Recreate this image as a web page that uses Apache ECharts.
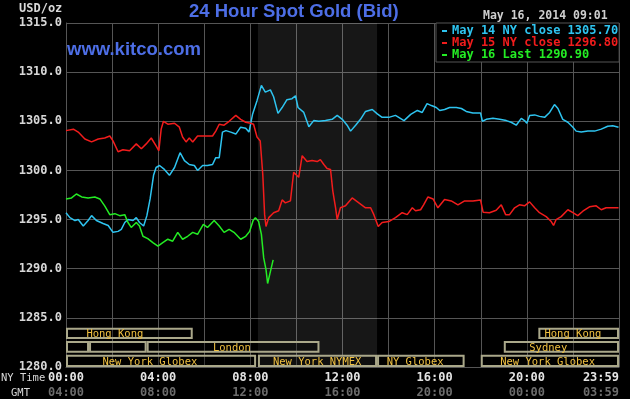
<!DOCTYPE html>
<html>
<head>
<meta charset="utf-8">
<script src="https://cdn.jsdelivr.net/npm/echarts@6/dist/echarts.min.js"></script>
<style>
  html, body { margin: 0; padding: 0; background: #000; }
  #chart { width: 630px; height: 399px; }
</style>
</head>
<body>
<div id="chart"></div>
<script>
// NY time in hours, price in USD/oz
const may14Hours = [0.00, 0.17, 0.39, 0.53, 0.75, 0.96, 1.11, 1.32, 1.61, 1.83, 2.04, 2.26, 2.40, 2.55, 2.69, 2.91, 3.05, 3.19, 3.37, 3.51,
    3.65, 3.80, 3.91, 4.06, 4.27, 4.49, 4.71, 4.95, 5.14, 5.35, 5.57, 5.71, 5.93, 6.14, 6.36, 6.50, 6.65, 6.79, 6.94, 7.15,
    7.37, 7.58, 7.80, 7.94, 8.02, 8.10, 8.29, 8.48, 8.65, 8.87, 9.01, 9.20, 9.38, 9.59, 9.81, 9.96, 10.07, 10.32, 10.54, 10.75,
    10.97, 11.26, 11.55, 11.77, 11.99, 12.20, 12.35, 12.57, 12.78, 13.00, 13.29, 13.51, 13.72, 14.01, 14.30, 14.67, 14.96, 15.25, 15.46, 15.67,
    15.86, 16.07, 16.22, 16.43, 16.65, 16.94, 17.16, 17.37, 17.66, 17.99, 18.07, 18.24, 18.53, 18.82, 19.11, 19.32, 19.54, 19.76, 19.90, 20.00,
    20.12, 20.34, 20.55, 20.77, 20.99, 21.20, 21.35, 21.56, 21.78, 22.00, 22.14, 22.36, 22.65, 22.94, 23.23, 23.51, 23.73, 23.98];
const may14Prices = [1295.7, 1295.2, 1294.9, 1295.0, 1294.35, 1294.9, 1295.4, 1294.9, 1294.6, 1294.4, 1293.7, 1293.8, 1294.0, 1294.7, 1295.0, 1294.9, 1295.2, 1294.7, 1294.35, 1295.4,
    1297.1, 1299.5, 1300.3, 1300.5, 1300.1, 1299.5, 1300.3, 1301.8, 1301.0, 1300.6, 1300.5, 1300.0, 1300.5, 1300.5, 1300.6, 1301.3, 1301.3, 1303.9, 1304.05, 1303.9,
    1303.7, 1304.4, 1304.3, 1303.9, 1303.7, 1305.75, 1307.1, 1308.65, 1307.97, 1308.2, 1307.5, 1305.8, 1306.4, 1307.2, 1307.3, 1307.6, 1306.4, 1305.9, 1304.45, 1305.07,
    1305.0, 1305.07, 1305.2, 1305.6, 1305.2, 1304.6, 1304.0, 1304.6, 1305.2, 1306.0, 1306.2, 1305.75, 1305.4, 1305.4, 1305.6, 1305.07, 1305.7, 1306.1, 1305.9, 1306.8,
    1306.6, 1306.4, 1306.1, 1306.2, 1306.4, 1306.4, 1306.3, 1306.0, 1305.85, 1305.85, 1305.0, 1305.2, 1305.3, 1305.2, 1305.07, 1304.9, 1304.6, 1305.3, 1305.07, 1304.8,
    1305.6, 1305.65, 1305.5, 1305.4, 1305.9, 1306.7, 1306.3, 1305.2, 1304.9, 1304.4, 1304.0, 1303.9, 1304.0, 1304.0, 1304.2, 1304.5, 1304.55, 1304.4];

const may15Hours = [0.00, 0.32, 0.53, 0.82, 1.11, 1.40, 1.68, 1.90, 2.04, 2.26, 2.47, 2.76, 3.05, 3.27, 3.48, 3.70, 3.91, 4.03, 4.13, 4.23,
    4.42, 4.71, 4.92, 5.06, 5.21, 5.35, 5.50, 5.71, 6.00, 6.36, 6.50, 6.65, 6.86, 7.08, 7.37, 7.58, 7.80, 8.01, 8.14, 8.29,
    8.43, 8.54, 8.62, 8.68, 8.80, 9.01, 9.23, 9.38, 9.52, 9.74, 9.88, 10.10, 10.25, 10.46, 10.68, 10.90, 11.04, 11.19, 11.33, 11.48,
    11.58, 11.70, 11.77, 11.91, 12.13, 12.42, 12.71, 13.00, 13.22, 13.36, 13.55, 13.72, 14.01, 14.30, 14.59, 14.81, 15.03, 15.17, 15.39, 15.52,
    15.71, 15.93, 16.14, 16.43, 16.72, 17.01, 17.30, 17.66, 17.99, 18.10, 18.38, 18.67, 18.89, 19.08, 19.25, 19.47, 19.68, 19.90, 20.12, 20.34,
    20.55, 20.84, 21.06, 21.16, 21.27, 21.49, 21.78, 22.00, 22.21, 22.43, 22.72, 23.01, 23.23, 23.44, 23.73, 23.98];
const may15Prices = [1304.05, 1304.2, 1303.9, 1303.2, 1302.9, 1303.2, 1303.3, 1303.5, 1303.0, 1301.9, 1302.1, 1302.0, 1302.7, 1302.2, 1302.7, 1303.3, 1302.5, 1302.0, 1304.2, 1305.0,
    1304.7, 1304.8, 1304.4, 1303.4, 1302.9, 1303.3, 1302.9, 1303.5, 1303.5, 1303.5, 1304.0, 1304.7, 1304.6, 1305.0, 1305.6, 1305.2, 1304.9, 1304.8, 1304.7, 1303.4,
    1303.0, 1299.6, 1295.5, 1294.3, 1295.2, 1295.7, 1295.9, 1297.0, 1296.7, 1296.9, 1299.8, 1299.3, 1301.5, 1300.9, 1301.0, 1300.9, 1301.1, 1300.6, 1300.2, 1300.1,
    1297.9, 1296.2, 1295.0, 1296.2, 1296.4, 1297.2, 1296.7, 1296.2, 1296.2, 1295.5, 1294.3, 1294.7, 1294.8, 1295.2, 1295.7, 1295.5, 1296.2, 1295.9, 1296.0, 1296.5,
    1297.3, 1297.1, 1296.2, 1297.05, 1296.9, 1296.5, 1296.9, 1296.9, 1297.0, 1295.75, 1295.7, 1295.95, 1296.5, 1295.5, 1295.5, 1296.2, 1296.5, 1296.4, 1296.8, 1296.2,
    1295.7, 1295.3, 1294.8, 1294.4, 1295.0, 1295.3, 1296.0, 1295.7, 1295.4, 1295.85, 1296.3, 1296.4, 1296.0, 1296.2, 1296.2, 1296.2];

const may16Hours = [0.00, 0.24, 0.45, 0.68, 0.96, 1.25, 1.47, 1.68, 1.90, 2.12, 2.33, 2.55, 2.69, 2.83, 3.05, 3.19, 3.34, 3.55, 3.77, 3.99,
    4.20, 4.42, 4.63, 4.85, 5.06, 5.28, 5.50, 5.71, 5.96, 6.14, 6.43, 6.65, 6.86, 7.08, 7.29, 7.58, 7.80, 7.97, 8.12, 8.22,
    8.36, 8.48, 8.58, 8.68, 8.75, 8.87, 8.99];
const may16Prices = [1297.1, 1297.2, 1297.6, 1297.3, 1297.2, 1297.3, 1297.1, 1296.4, 1295.5, 1295.6, 1295.4, 1295.5, 1294.7, 1294.2, 1294.7, 1294.35, 1293.3, 1293.06, 1292.65, 1292.3,
    1292.65, 1293.0, 1292.8, 1293.7, 1293.0, 1293.3, 1293.7, 1293.5, 1294.5, 1294.2, 1294.9, 1294.35, 1293.7, 1294.0, 1293.7, 1293.0, 1293.3, 1293.8, 1294.9, 1295.2,
    1294.8, 1293.5, 1291.1, 1289.9, 1288.5, 1289.7, 1290.9];

const seriesNames = ['May 14 NY close 1305.70', 'May 15 NY close 1296.80', 'May 16 Last 1290.90'];
const seriesColors = ['#2ec4f0', '#f21c1c', '#24ec24'];

const nyTicks = ['00:00', '04:00', '08:00', '12:00', '16:00', '20:00', '23:59'];
const gmtTicks = ['04:00', '08:00', '12:00', '16:00', '20:00', '00:00', '03:59'];

// trading sessions (hours, NY time), row 0 = top
const sessionNames = ['Hong Kong', '', '', 'London', 'New York Globex', 'New York NYMEX', 'NY Globex', 'New York Globex', 'Sydney', 'Hong Kong'];
const sessionStart = [0, 0, 1.0, 3.5, 0, 8.33, 13.5, 18.0, 19.0, 20.5];
const sessionEnd = [5.5, 1.0, 3.5, 11.0, 8.25, 13.5, 17.3, 24, 24, 24];
const sessionRow = [0, 1, 1, 1, 2, 2, 2, 2, 1, 0];
const sessionLabelAt = [2.12, 0, 0, 7.2, 3.64, 10.9, 15.15, 20.9, 20.93, 22.0];

const comexOpen = [8.33, 13.5];

const mono = '"DejaVu Sans Mono", monospace';

function pairs(xs, ys) {
    return xs.map((x, i) => [x, ys[i]]);
}

const chart = echarts.init(document.getElementById('chart'));

const rowBands = [[1284.0, 1282.85], [1282.65, 1281.45], [1281.25, 1280.0]];

function renderSession(params, api) {
    const s = api.value(0), e = api.value(1), row = api.value(2), lx = api.value(3);
    const band = rowBands[row];
    const p0 = api.coord([s, band[0]]);
    const p1 = api.coord([e, band[1]]);
    const tp = api.coord([lx, (band[0] + band[1]) / 2]);
    const name = sessionNames[params.dataIndex];
    const children = [{
        type: 'rect',
        shape: { x: p0[0] + 1, y: p0[1] + 1, width: p1[0] - p0[0] - 2, height: p1[1] - p0[1] - 2 },
        style: { fill: 'rgba(0,0,0,0.35)', stroke: '#aaa88a', lineWidth: 2 }
    }];
    if (name) {
        children.push({
            type: 'text', x: tp[0], y: tp[1] + 1,
            style: { text: name, fill: '#f0c040', font: '10.5px ' + mono, align: 'center', verticalAlign: 'middle' }
        });
    }
    return { type: 'group', children: children };
}

const option = {
    backgroundColor: '#000',
    animation: false,
    title: [
        { text: '24 Hour Spot Gold (Bid)', left: 189, top: 2, padding: 0,
          textStyle: { color: '#4d6ee6', fontFamily: '"Liberation Sans", Arial', fontWeight: 'bold', fontSize: 18.5 } },
        { text: 'www.kitco.com', left: 67, top: 40, padding: 0,
          textStyle: { color: '#4d6ee6', fontFamily: '"Liberation Sans", Arial', fontWeight: 'bold', fontSize: 18.5 } },
        { text: 'May 16, 2014 09:01', left: 483, top: 10, padding: 0,
          textStyle: { color: '#cfcfcf', fontFamily: mono, fontWeight: 'bold', fontSize: 11.5 } }
    ],
    graphic: [
        { type: 'text', left: 19, top: 3, style: { text: 'USD/oz', fill: '#d8d8d8', font: 'bold 12px ' + mono } },
        { type: 'text', left: 1, top: 373, style: { text: 'NY Time', fill: '#d8d8d8', font: '10.5px ' + mono } },
        { type: 'text', left: 11, top: 388, style: { text: 'GMT', fill: '#d8d8d8', font: '10.5px ' + mono } }
    ],
    legend: {
        left: 436, top: 23, orient: 'vertical',
        icon: 'rect', itemWidth: 5, itemHeight: 2, itemGap: 0,
        backgroundColor: '#000', borderColor: '#555', borderWidth: 1, borderRadius: 0,
        padding: [2, 1, 1, 6],
        selectedMode: false,
        data: seriesNames.map((n, i) => ({ name: n, textStyle: { color: seriesColors[i] } })),
        textStyle: { fontFamily: mono, fontWeight: 'bold', fontSize: 12, lineHeight: 12 }
    },
    grid: { left: 66, right: 11, top: 23, bottom: 31 },
    xAxis: [{
        type: 'value', min: 0, max: 24, interval: 2,
        axisLine: { show: true, lineStyle: { color: '#555' } },
        axisTick: { show: false },
        splitLine: { show: true, lineStyle: { color: '#555', width: 1 } },
        axisLabel: {
            color: '#e4e4e4', fontFamily: mono, fontWeight: 'bold', fontSize: 12, margin: 5,
            showMinLabel: true, showMaxLabel: true, alignMaxLabel: 'right',
            formatter: v => (v % 4 === 0 ? nyTicks[v / 4] : '')
        }
    }, {
        type: 'value', min: 0, max: 24, interval: 2, position: 'bottom', offset: 15,
        axisLine: { show: false }, axisTick: { show: false }, splitLine: { show: false },
        axisLabel: {
            color: '#6c6c6c', fontFamily: mono, fontWeight: 'bold', fontSize: 12, margin: 5,
            showMinLabel: true, showMaxLabel: true, alignMaxLabel: 'right',
            formatter: v => (v % 4 === 0 ? gmtTicks[v / 4] : '')
        }
    }],
    yAxis: {
        type: 'value', min: 1280, max: 1315, interval: 5,
        axisLine: { show: true, lineStyle: { color: '#555' } },
        axisTick: { show: false },
        splitLine: { show: true, lineStyle: { color: '#555', width: 1 } },
        axisLabel: {
            color: '#d8d8d8', fontFamily: mono, fontWeight: 'bold', fontSize: 12, margin: 4,
            formatter: v => v.toFixed(1)
        }
    },
    series: [
        {
            type: 'custom', name: 'sessions', silent: true, clip: false, z: 1,
            renderItem: renderSession,
            encode: { x: [0, 1, 3], y: 2 },
            data: sessionStart.map((s, i) => [s, sessionEnd[i], sessionRow[i], sessionLabelAt[i]]),
            markArea: {
                silent: true,
                itemStyle: { color: 'rgba(255,255,255,0.09)' },
                data: [[{ xAxis: comexOpen[0] }, { xAxis: comexOpen[1] }]]
            }
        },
        {
            type: 'line', name: seriesNames[0], data: pairs(may14Hours, may14Prices),
            showSymbol: false, color: seriesColors[0], lineStyle: { width: 1.5 }
        },
        {
            type: 'line', name: seriesNames[1], data: pairs(may15Hours, may15Prices),
            showSymbol: false, color: seriesColors[1], lineStyle: { width: 1.5 }
        },
        {
            type: 'line', name: seriesNames[2], data: pairs(may16Hours, may16Prices),
            showSymbol: false, color: seriesColors[2], lineStyle: { width: 1.5 }
        }
    ]
};

chart.setOption(option);
</script>
</body>
</html>
